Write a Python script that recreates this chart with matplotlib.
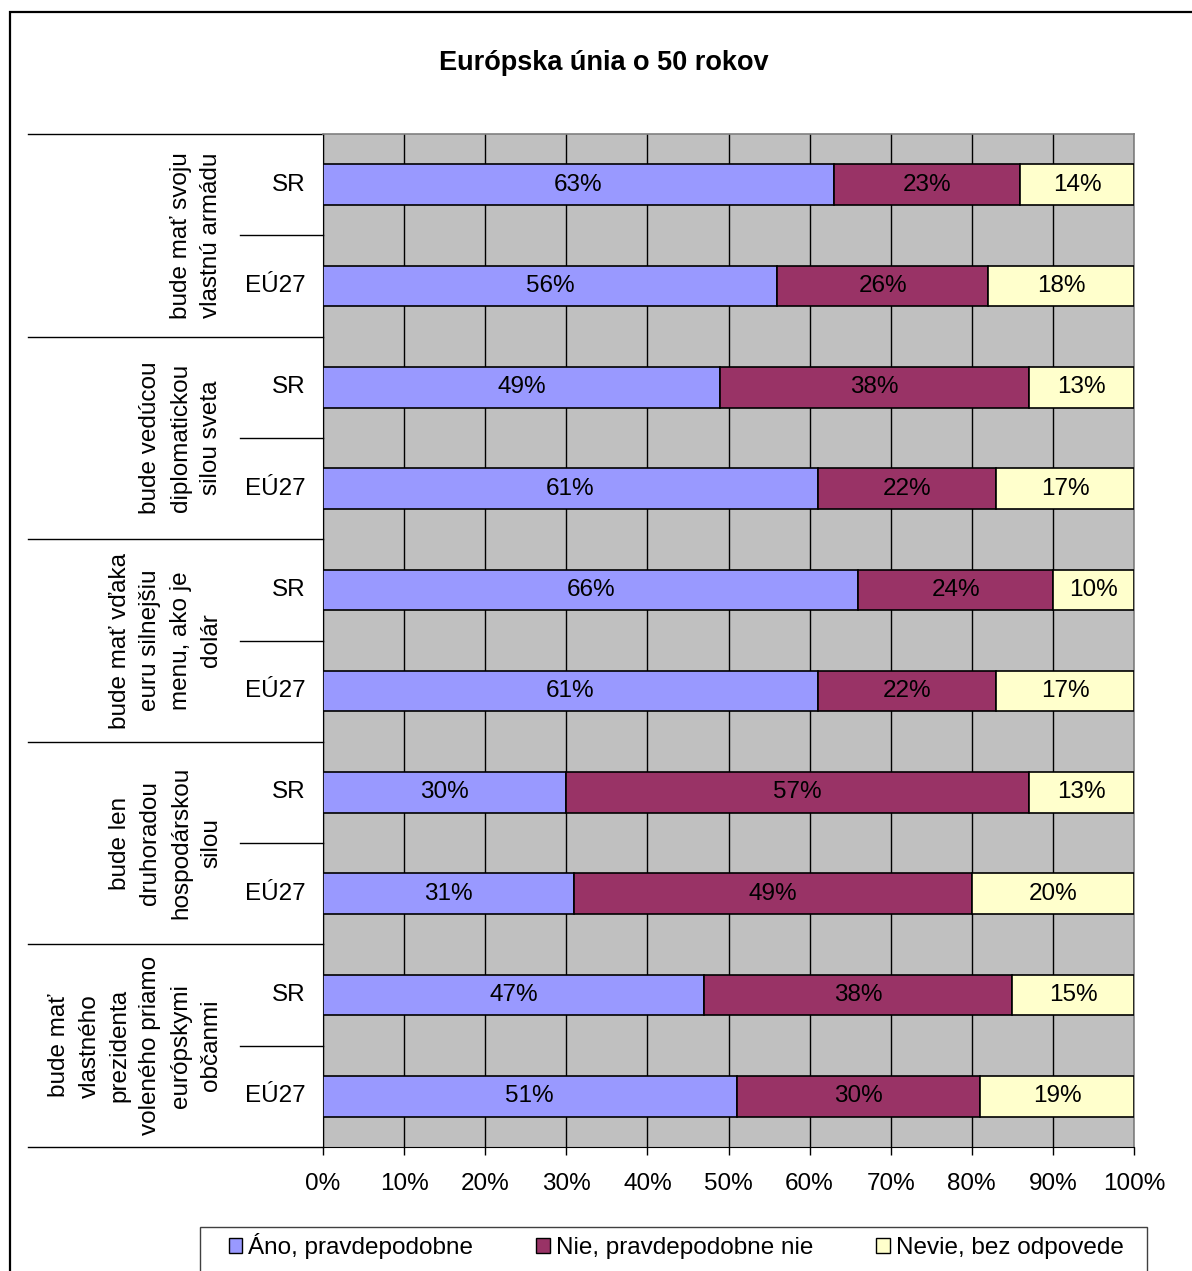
import matplotlib
matplotlib.use("Agg")
import matplotlib.pyplot as plt
from matplotlib.patches import Rectangle, Patch
import numpy as np

plt.rcParams['font.family'] = ['Liberation Sans', 'DejaVu Sans']

# Data (shares in %)
groups = ["bude mať svoju\nvlastnú armádu",
          "bude vedúcou\ndiplomatickou\nsilou sveta",
          "bude mať vďaka\neuru silnejšiu\nmenu, ako je\ndolár",
          "bude len\ndruhoradou\nhospodárskou\nsilou",
          "bude mať\nvlastného\nprezidenta\nvoleného priamo\neurópskymi\nobčanmi"]
subcats = ["SR", "EÚ27"]
ano = [63, 56, 49, 61, 66, 61, 30, 31, 47, 51]
nie = [23, 26, 38, 22, 24, 22, 57, 49, 38, 30]
nevie = [14, 18, 13, 17, 10, 17, 13, 20, 15, 19]
series_names = ["Áno, pravdepodobne", "Nie, pravdepodobne nie", "Nevie, bez odpovede"]
colors = ["#9999FF", "#993366", "#FFFFCC"]

FS = 17.5
W, H = 1192, 1271
fig = plt.figure(figsize=(W / 100, H / 100), dpi=100)
ax = fig.add_axes([323 / W, 1 - 1147 / H, 811 / W, 1013 / H])
ax.set_facecolor("#C0C0C0")

y = np.arange(len(ano))
left = np.zeros(len(ano))
for vals, col in zip([ano, nie, nevie], colors):
    vals = np.array(vals)
    ax.barh(y, vals, left=left, height=0.4, color=col, edgecolor="black", linewidth=1.2, zorder=3)
    for yi, l, v in zip(y, left, vals):
        ax.text(l + v / 2, yi, f"{v}%", ha="center", va="center", fontsize=FS, zorder=4)
    left += vals

ax.set_xlim(0, 100)
ax.set_ylim(len(ano) - 0.5, -0.5)
ax.set_xticks(np.arange(0, 101, 10))
ax.set_xticklabels([f"{t}%" for t in range(0, 101, 10)], fontsize=FS)
ax.tick_params(axis="x", direction="out", length=6, width=1, pad=13)
ax.set_yticks([])
ax.xaxis.grid(True, color="black", linewidth=1)
ax.set_axisbelow(True)
for s in ["top", "right"]:
    ax.spines[s].set_color("#808080")
    ax.spines[s].set_linewidth(1.2)
ax.spines["bottom"].set_color("black")
ax.spines["left"].set_color("black")

# Category labels and separator lines
tr = ax.get_yaxis_transform()
for i, g in enumerate(groups):
    for j, sc in enumerate(subcats):
        ax.text(-0.022, 2 * i + j, sc, transform=tr, ha="right", va="center", fontsize=FS)
    ax.text(-0.124, 2 * i + 0.5, g, transform=tr, ha="right", va="center", rotation=90,
            multialignment="center", fontsize=FS, linespacing=1.5)
    ax.plot([-0.1023, 0], [2 * i + 0.5, 2 * i + 0.5], transform=tr, color="black",
            linewidth=1, clip_on=False)
for b in np.arange(-0.5, len(ano), 2):
    ax.plot([-0.3637, 0], [b, b], transform=tr, color="black", linewidth=1, clip_on=False)

fig.text(604 / W, 1 - 63 / H, "Európska únia o 50 rokov", ha="center", va="center",
         fontsize=19.5, fontweight="bold")

handles = [Patch(facecolor=c, edgecolor="black", linewidth=1) for c in colors]
leg = fig.legend(handles, series_names, ncol=3, loc="center",
                 bbox_to_anchor=(676 / W, 1 - 1246 / H),
                 fontsize=FS, handlelength=0.55, handleheight=0.55, handletextpad=0.25,
                 frameon=False, borderaxespad=0, columnspacing=2.6, borderpad=0)

# Legend frame and outer chart border
fig.patches.append(Rectangle((200 / W, -0.01), 947 / W, 1 - 1227 / H + 0.01,
                             transform=fig.transFigure, fill=False, edgecolor="#404040",
                             linewidth=1))
fig.patches.append(Rectangle((10 / W, -0.01), 1.01, 1 - 12 / H + 0.01, transform=fig.transFigure,
                             fill=False, edgecolor="black", linewidth=1.6))

fig.savefig("out.png", dpi=100)
